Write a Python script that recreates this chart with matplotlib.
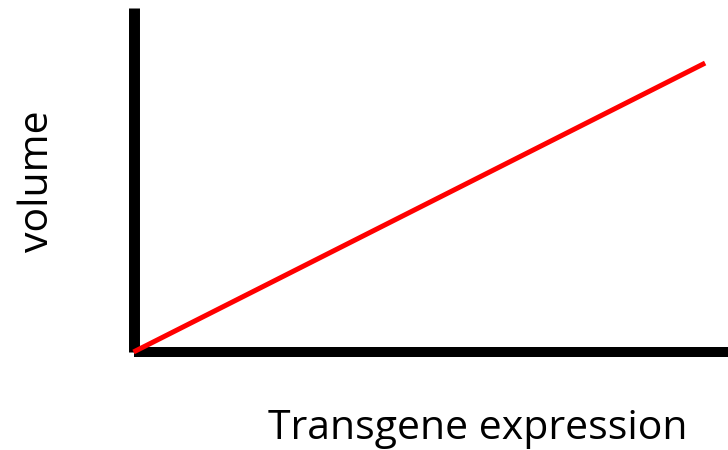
import matplotlib
matplotlib.use("Agg")
import matplotlib.pyplot as plt

# Data: a simple linear relation
expression = [0, 10]
volume = [0, 8.4]

x_label = "Transgene expression"
y_label = "volume"

plt.rcParams['font.family'] = ['Open Sans', 'DejaVu Sans']

fig = plt.figure(figsize=(7.28, 4.5), dpi=100)
ax = fig.add_axes([0.1834, 0.2178, 0.8166, 0.7644])

ax.plot(expression, volume, color='#ff0000', lw=3.6, solid_capstyle='butt',
        clip_on=False, zorder=3)

ax.set_xlim(0, 10.4)
ax.set_ylim(0, 10)

# thick black axes only
for side in ['top', 'right']:
    ax.spines[side].set_visible(False)
ax.spines['left'].set_linewidth(7.9)
ax.spines['bottom'].set_linewidth(7.2)
for side in ['left', 'bottom']:
    ax.spines[side].set_color('black')
    ax.spines[side].set_capstyle('butt')
ax.set_xticks([])
ax.set_yticks([])

fig.text(0.6566, 0.047, x_label, fontsize=29.5, ha='center', va='center')
fig.text(0.052, 0.597, y_label, fontsize=29.5, ha='center', va='center',
         rotation=90)

fig.savefig("out.png", dpi=100)
